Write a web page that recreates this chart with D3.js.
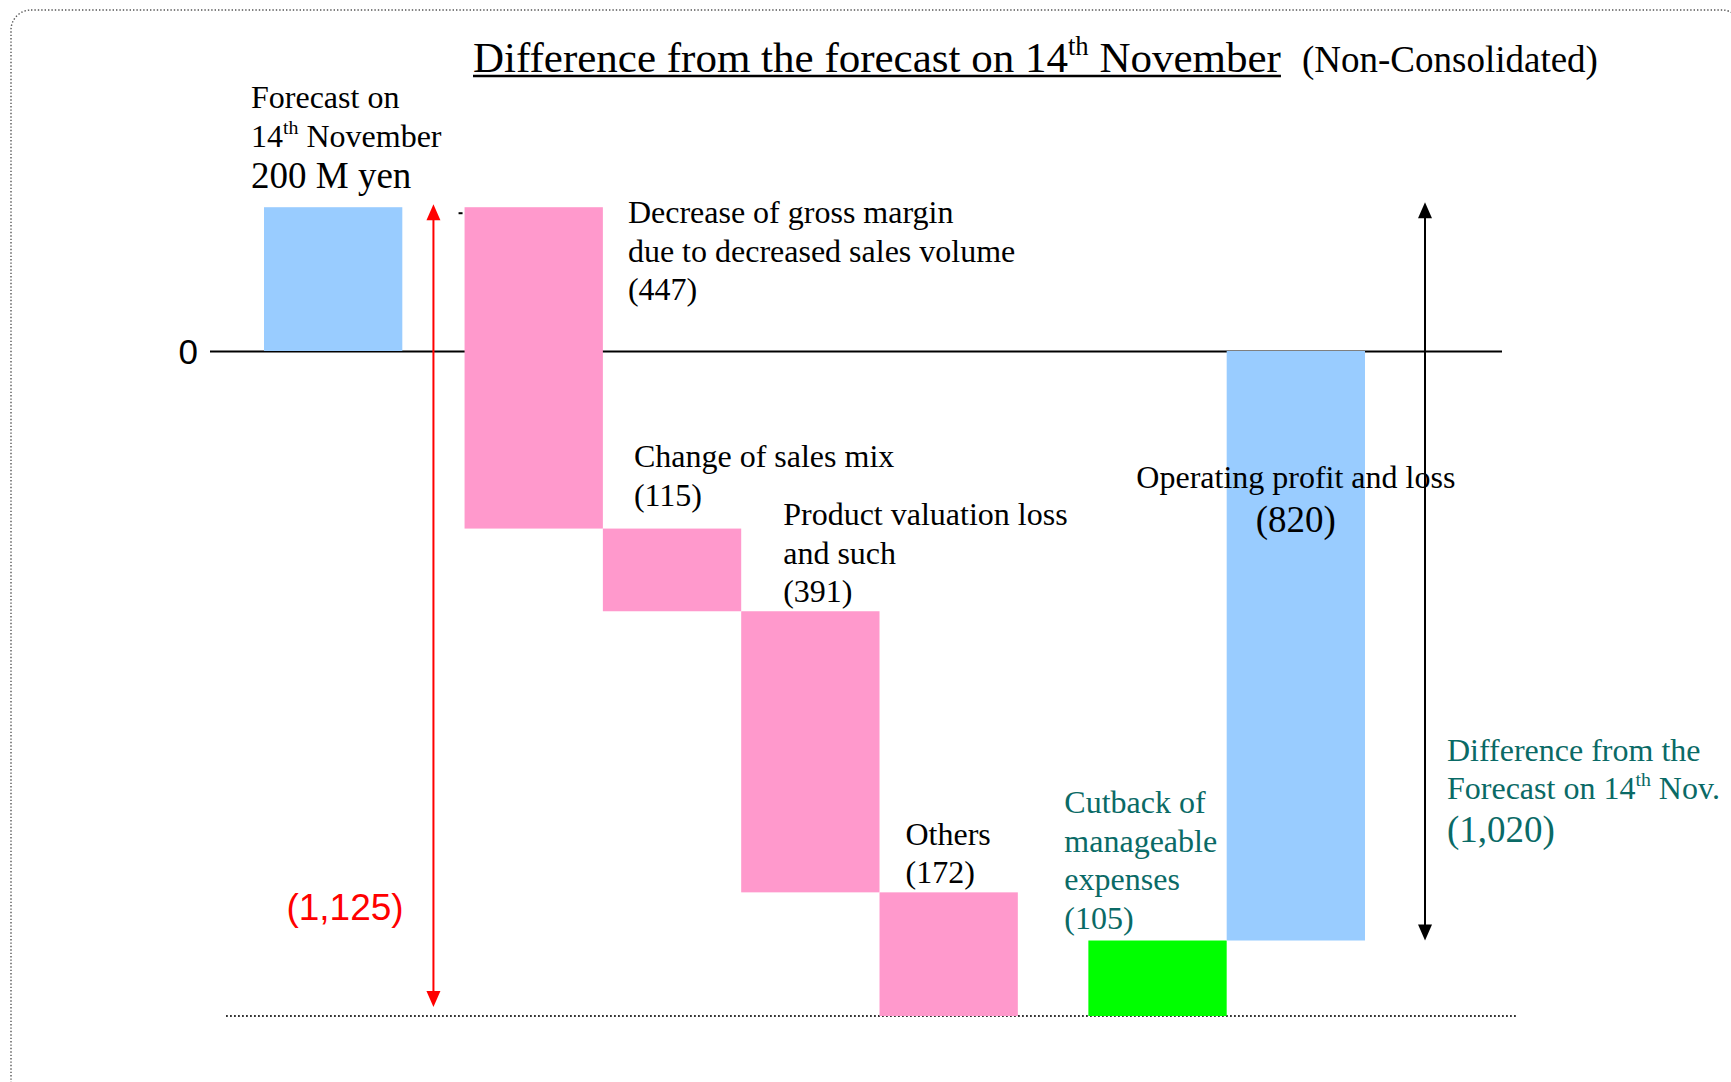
<!DOCTYPE html>
<html><head><meta charset="utf-8">
<script src="https://cdn.jsdelivr.net/npm/d3@7"></script>
<style>
html,body{margin:0;padding:0;background:#fff;}
svg{display:block;}
</style></head><body>
<svg id="chart" width="1731" height="1082"></svg>
<script>
// ---------------- DATA ----------------
const categories = [
  "Forecast on 14th November",
  "Decrease of gross margin due to decreased sales volume",
  "Change of sales mix",
  "Product valuation loss and such",
  "Others",
  "Cutback of manageable expenses",
  "Operating profit and loss"
];
const values   = [200, -447, -115, -391, -172, 105, -820];
const barTypes = ["total", "delta", "delta", "delta", "delta", "delta", "total"];
const groups   = [0, 1, 1, 1, 1, 2, 2];
const yTicks   = [0];
const labelLines = [
  ["Forecast on", "14^th^ November"],
  ["Decrease of gross margin", "due to decreased sales volume"],
  ["Change of sales mix"],
  ["Product valuation loss", "and such"],
  ["Others"],
  ["Cutback of", "manageable", "expenses"],
  ["Operating profit and loss"]
];
const titleText = "Difference from the forecast on 14^th^ November";
const subTitleText = "(Non-Consolidated)";
const diffLines = ["Difference from the", "Forecast on 14^th^ Nov."];

// ---------------- SETUP ----------------
const svg = d3.select("#chart");
const SERIF = "'Liberation Serif', 'Times New Roman', serif";
const SANS = "'Liberation Sans', Arial, sans-serif";
const TEAL = "#0a6a66";
const fmtParen = v => "(" + d3.format(",")(Math.abs(v)) + ")";

// border
svg.append("rect")
  .attr("x", 11).attr("y", 10).attr("width", 1731).attr("height", 1100)
  .attr("rx", 20).attr("fill", "none")
  .attr("stroke", "#555").attr("stroke-width", 1.4).attr("stroke-dasharray", "1.4,2");

// waterfall computation
let running = 0;
const bars = values.map((v, i) => {
  let y0, y1;
  if (barTypes[i] === "total") { y0 = 0; y1 = v; running = v; }
  else { y0 = running; y1 = running + v; running += v; }
  return { i, cat: categories[i], v, type: barTypes[i], y0, y1 };
});
const minLevel = d3.min(bars, d => Math.min(d.y0, d.y1));
const startLevel = values[0];
const totalDrop = d3.sum(values.filter((v, i) => barTypes[i] === "delta" && v < 0));
const totalDiff = values[values.length - 1] - startLevel;

// x slots with gaps between groups (layout)
const groupGaps = { 1: 0.45, 2: 0.51 };
let pos = 0; const slot = [];
groups.forEach((g, i) => { if (i > 0 && g !== groups[i - 1]) pos += groupGaps[g]; slot.push(pos); pos += 1; });
const x = d3.scaleLinear().domain([0, pos]).range([264, 1365]);
const y = d3.scaleLinear().domain([0, minLevel]).range([351, 1016]);
const bx0 = d => x(slot[d.i]);
const bx1 = d => x(slot[d.i] + 1);
const btop = d => y(Math.max(d.y0, d.y1));

// zero axis
const axis = d3.axisLeft(y).tickValues(yTicks).tickSize(-1292).tickPadding(12).tickFormat(d3.format("d"));
const ag = svg.append("g").attr("transform", "translate(210,0)").call(axis);
ag.select(".domain").remove();
ag.selectAll(".tick line").attr("stroke", "#000").attr("stroke-width", 2);
ag.selectAll(".tick text").attr("font-family", SANS).attr("font-size", 35).attr("fill", "#000").attr("dy", "0.37em");

// bottom dotted baseline
svg.append("line")
  .attr("x1", 226).attr("x2", 1518).attr("y1", y(minLevel)).attr("y2", y(minLevel))
  .attr("stroke", "#333").attr("stroke-width", 1.8).attr("stroke-dasharray", "1.8,2.2");

// bars
const color = d => d.type === "total" ? "#99CCFF" : (d.v < 0 ? "#FF99CC" : "#00FF00");
svg.selectAll("rect.bar").data(bars).join("rect")
  .attr("class", "bar")
  .attr("x", bx0)
  .attr("width", d => bx1(d) - bx0(d))
  .attr("y", btop)
  .attr("height", d => Math.abs(y(d.y0) - y(d.y1)))
  .attr("fill", color);

// tiny connector dash
svg.append("line")
  .attr("x1", bx0(bars[1]) - 6).attr("x2", bx0(bars[1]) - 2)
  .attr("y1", y(startLevel) + 6).attr("y2", y(startLevel) + 6)
  .attr("stroke", "#000").attr("stroke-width", 2);

// ---------------- TEXT HELPERS ----------------
function rich(textSel, str, size) {
  const segs = str.split("^");
  let raised = false;
  segs.forEach((s, k) => {
    if (s === "") return;
    const sup = k % 2 === 1;
    const t = textSel.append("tspan").text(s).attr("font-size", sup ? size * 0.62 : size);
    if (sup && !raised) { t.attr("dy", -size * 0.4); raised = true; }
    else if (!sup && raised) { t.attr("dy", size * 0.4); raised = false; }
  });
  return textSel;
}
function addText(xp, yp, str, size, opts = {}) {
  const t = svg.append("text")
    .attr("x", xp).attr("y", yp)
    .attr("font-family", opts.font || SERIF)
    .attr("font-size", size)
    .attr("fill", opts.fill || "#000")
    .attr("text-anchor", opts.anchor || "start");
  rich(t, str, size);
  return t;
}

// ---------------- TITLE ----------------
const title = addText(473, 72, titleText, 43);
const tb = title.node().getBBox();
svg.append("line").attr("x1", tb.x).attr("x2", tb.x + tb.width).attr("y1", 76).attr("y2", 76)
  .attr("stroke", "#000").attr("stroke-width", 2.6);
addText(tb.x + tb.width + 21, 72, subTitleText, 37);

// ---------------- BAR LABELS ----------------
const LH = 38.5;
// bar 0 : forecast
{
  const b = bars[0], t = btop(b);
  addText(bx0(b) - 13, t - 99, labelLines[0][0], 32);
  addText(bx0(b) - 13, t - 60, labelLines[0][1], 32);
  addText(bx0(b) - 13, t - 19, values[0] + " M yen", 37);
}
// bar 1
{
  const b = bars[1], t = btop(b), xp = bx1(b) + 25;
  const lines = labelLines[1].concat([fmtParen(b.v)]);
  lines.forEach((s, k) => addText(xp, t + 16 + k * LH, s, 32));
}
// bar 2
{
  const b = bars[2], t = btop(b), xp = bx0(b) + 31;
  const lines = labelLines[2].concat([fmtParen(b.v)]);
  lines.forEach((s, k) => addText(xp, t - 23 - (lines.length - 1 - k) * 39, s, 32));
}
// bar 3
{
  const b = bars[3], t = btop(b), xp = bx0(b) + 42;
  const lines = labelLines[3].concat([fmtParen(b.v)]);
  lines.forEach((s, k) => addText(xp, t - 9 - (lines.length - 1 - k) * LH, s, 32));
}
// bar 4
{
  const b = bars[4], t = btop(b), xp = bx0(b) + 26;
  const lines = labelLines[4].concat([fmtParen(b.v)]);
  lines.forEach((s, k) => addText(xp, t - 9 - (lines.length - 1 - k) * LH, s, 32));
}
// bar 5 (teal)
{
  const b = bars[5], t = btop(b), xp = bx0(b) - 24;
  const lines = labelLines[5].concat([fmtParen(b.v)]);
  lines.forEach((s, k) => addText(xp, t - 12 - (lines.length - 1 - k) * LH, s, 32, { fill: TEAL }));
}
// bar 6
{
  const b = bars[6], cx = (bx0(b) + bx1(b)) / 2;
  addText(cx, y(0) + 137, labelLines[6][0], 32, { anchor: "middle" });
  addText(cx, y(0) + 181, fmtParen(b.v), 37, { anchor: "middle" });
}

// ---------------- ARROWS ----------------
function dblArrow(xp, yTop, yBot, col) {
  const hw = 7, hh = 16;
  svg.append("line").attr("x1", xp).attr("x2", xp).attr("y1", yTop + hh - 2).attr("y2", yBot - hh + 2)
    .attr("stroke", col).attr("stroke-width", 2);
  svg.append("path").attr("d", `M${xp},${yTop}L${xp - hw},${yTop + hh}L${xp + hw},${yTop + hh}Z`).attr("fill", col);
  svg.append("path").attr("d", `M${xp},${yBot}L${xp - hw},${yBot - hh}L${xp + hw},${yBot - hh}Z`).attr("fill", col);
}
const redX = (bx1(bars[0]) + bx0(bars[1])) / 2;
dblArrow(redX, y(startLevel) - 3, y(minLevel) - 9, "#FF0000");
addText(redX - 147, y(minLevel) - 96, fmtParen(totalDrop), 37, { font: SANS, fill: "#FF0000" });

const blackX = bx1(bars[6]) + 60;
dblArrow(blackX, y(startLevel) - 5, y(values[6]), "#000");
const last = y(values[6]);
addText(blackX + 22, last - 180, diffLines[0], 32, { fill: TEAL });
addText(blackX + 22, last - 142, diffLines[1], 32, { fill: TEAL });
addText(blackX + 22, last - 99, fmtParen(totalDiff), 37, { fill: TEAL });
</script>
</body></html>
